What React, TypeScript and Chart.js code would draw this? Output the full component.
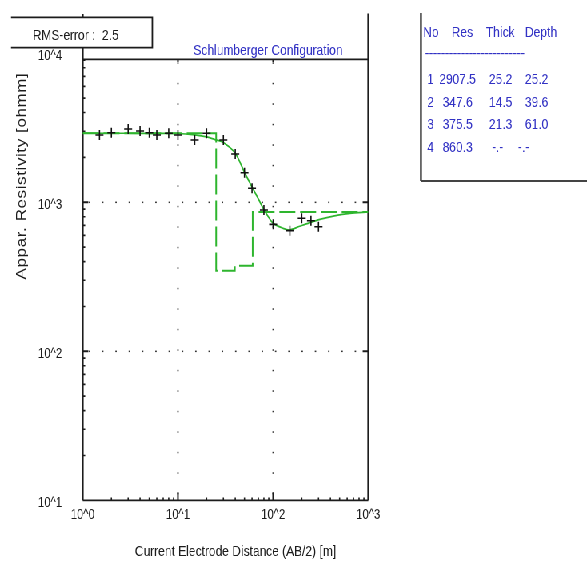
import React, { useEffect, useRef } from "react";
import { Chart, registerables } from "chart.js";

Chart.register(...registerables);

// ---- data ----
const abHalf = [1.5, 2, 3, 4, 5, 6, 8, 10, 15, 20, 30, 40, 50, 60, 80, 100, 150, 200, 250, 300];
const measuredRho = [2829, 2931, 3105, 3009, 2931, 2829, 2906, 2829, 2618, 2904, 2618, 2109, 1580, 1242, 888, 711, 645, 781, 752, 685];

const modelAB = [1, 3, 6, 10, 15, 20, 25, 30, 40, 50, 60, 70, 80, 90, 100, 127, 149, 190, 240, 310, 430, 640, 1000];
const modelRho = [2907, 2905, 2903, 2895, 2830, 2745, 2625, 2520, 2134, 1590, 1265, 1052, 893, 790, 723, 669, 652, 690, 728, 768, 808, 843, 861];

const layerRes = [2907.5, 347.6, 375.5, 860.3];
const layerThick = [25.2, 14.5, 21.3];
const layerDepth = [25.2, 39.6, 61.0];

const xTickValues = [1, 10, 100, 1000];
const xTickLabels = ["10^0", "10^1", "10^2", "10^3"];
const yTickValues = [10, 100, 1000, 10000];
const yTickLabels = ["10^1", "10^2", "10^3", "10^4"];

const rmsError = "2.5";

// ---- layout ----
const W = 734;
const H = 561;
const S = 587 / W; // horizontal squeeze
const X = (rx: number) => rx / S;
const FONT = '"Liberation Sans", Arial, sans-serif';
const GREEN = "#2eb52e";
const BLUE = "#3232c4";
const INK = "#1c1c1c";
const yAxisMax = 9110;

const decorPlugin = {
  id: "decor",
  beforeDatasetsDraw(chart: any) {
    const { ctx, chartArea: a, scales } = chart;
    const xs = scales.x;
    const ys = scales.y;
    ctx.save();
    // dotted grid
    ctx.fillStyle = "#333";
    for (const v of [100, 1000]) {
      const py = ys.getPixelForValue(v);
      for (let px = a.left + X(6); px < a.right - X(6); px += X(13.3)) ctx.fillRect(px, py - 0.7, 1.8, 1.5);
    }
    for (const v of [10, 100]) {
      const px = xs.getPixelForValue(v);
      for (let py = a.top + 3; py < a.bottom - 6; py += 20.5) ctx.fillRect(px - 0.9, py, 1.8, 1.5);
    }
    // ticks
    ctx.strokeStyle = INK;
    ctx.lineWidth = 1.6;
    ctx.beginPath();
    for (const d of [10, 100, 1000]) {
      for (let m = 2; m <= 9; m++) {
        const v = d * m;
        if (v > yAxisMax) continue;
        const py = ys.getPixelForValue(v);
        ctx.moveTo(a.left, py);
        ctx.lineTo(a.left + X(2.5), py);
      }
    }
    for (const d of [1, 10, 100]) {
      for (let m = 2; m <= 9; m++) {
        const px = xs.getPixelForValue(d * m);
        ctx.moveTo(px, a.bottom);
        ctx.lineTo(px, a.bottom - 2.8);
      }
    }
    ctx.stroke();
    ctx.beginPath();
    for (const v of [100, 1000]) {
      const py = ys.getPixelForValue(v);
      ctx.moveTo(a.left, py);
      ctx.lineTo(a.left + X(5.6), py);
      ctx.moveTo(a.right, py);
      ctx.lineTo(a.right - X(5.6), py);
    }
    for (const v of [10, 100]) {
      const px = xs.getPixelForValue(v);
      ctx.moveTo(px, a.bottom);
      ctx.lineTo(px, a.bottom - 8);
      ctx.moveTo(px, a.top);
      ctx.lineTo(px, a.top + 2.8);
    }
    ctx.lineWidth = 2;
    ctx.stroke();
    // frame
    ctx.strokeStyle = INK;
    ctx.lineWidth = 2.3;
    ctx.beginPath();
    ctx.moveTo(a.left, 14);
    ctx.lineTo(a.left, a.bottom);
    ctx.moveTo(a.right, 13.5);
    ctx.lineTo(a.right, a.bottom);
    ctx.stroke();
    ctx.lineWidth = 1.8;
    ctx.beginPath();
    ctx.moveTo(a.left, a.top);
    ctx.lineTo(a.right, a.top);
    ctx.moveTo(a.left, a.bottom);
    ctx.lineTo(a.right, a.bottom);
    ctx.stroke();
    ctx.restore();
  },
  afterDraw(chart: any) {
    const { ctx, scales } = chart;
    const xs = scales.x;
    const ys = scales.y;
    ctx.save();
    // RMS box
    ctx.fillStyle = "#fff";
    ctx.fillRect(X(11), 17.3, X(152.3) - X(11), 30.4);
    ctx.strokeStyle = INK;
    ctx.lineWidth = 1.8;
    ctx.beginPath();
    ctx.moveTo(X(11), 17.3);
    ctx.lineTo(X(152.3), 17.3);
    ctx.lineTo(X(152.3), 47.7);
    ctx.lineTo(X(11), 47.7);
    ctx.stroke();
    ctx.fillStyle = INK;
    ctx.font = `15px ${FONT}`;
    ctx.textAlign = "left";
    ctx.textBaseline = "alphabetic";
    ctx.fillText(`RMS-error :  ${rmsError}`, X(32.7), 39.5);
    // subtitle
    ctx.fillStyle = BLUE;
    ctx.textAlign = "center";
    ctx.fillText("Schlumberger Configuration", X(268), 54.5);
    // tick labels
    ctx.fillStyle = INK;
    ctx.font = `14px ${FONT}`;
    ctx.textBaseline = "middle";
    yTickValues.forEach((v, i) => {
      ctx.fillText(yTickLabels[i], X(50), ys.getPixelForValue(v) + 2.5);
    });
    xTickValues.forEach((v, i) => {
      ctx.fillText(xTickLabels[i], xs.getPixelForValue(v), 515.5);
    });
    // axis titles
    ctx.font = `15px ${FONT}`;
    ctx.fillText("Current Electrode Distance (AB/2) [m]", X(235.5), 552);
    ctx.save();
    ctx.translate(X(21.5), 176);
    ctx.rotate(-Math.PI / 2);
    ctx.font = `17px ${FONT}`;
    try { (ctx as any).letterSpacing = "0.6px"; } catch (e) {}
    ctx.fillText("Appar. Resistivity [ohmm]", 0, 0);
    ctx.restore();
    // table
    ctx.strokeStyle = "#444";
    ctx.lineWidth = 2.5;
    ctx.beginPath();
    ctx.moveTo(X(421), 13);
    ctx.lineTo(X(421), 181);
    ctx.stroke();
    ctx.lineWidth = 2;
    ctx.beginPath();
    ctx.moveTo(X(421), 181);
    ctx.lineTo(W, 181);
    ctx.stroke();
    ctx.fillStyle = BLUE;
    ctx.font = `15px ${FONT}`;
    ctx.textAlign = "left";
    ctx.textBaseline = "alphabetic";
    ctx.fillText("No", X(423.3), 36.7);
    ctx.fillText("Res", X(451.7), 36.7);
    ctx.fillText("Thick", X(486), 36.7);
    ctx.fillText("Depth", X(525), 36.7);
    ctx.fillText("-------------------------", X(425), 57.5);
    layerRes.forEach((r, i) => {
      const by = 84 + i * 22.6;
      ctx.fillText(String(i + 1), X(427.3), by);
      const rs = r.toFixed(1);
      ctx.fillText(rs.length < 6 ? " " + rs : rs, X(439.3), by);
      if (i < layerThick.length) {
        ctx.fillText(layerThick[i].toFixed(1), X(489), by);
        ctx.fillText(layerDepth[i].toFixed(1), X(525), by);
      } else {
        ctx.fillText("-.-", X(492), by);
        ctx.fillText("-.-", X(518), by);
      }
    });
    ctx.restore();
  },
};

export default function App() {
  const ref = useRef<HTMLCanvasElement>(null);
  useEffect(() => {
    document.body.style.overflow = "hidden";
    const layerPts: { x: number; y: number }[] = [{ x: 1, y: layerRes[0] }];
    layerDepth.forEach((d, i) => layerPts.push({ x: d, y: layerRes[i + 1] }));
    layerPts.push({ x: 1000, y: layerRes[layerRes.length - 1] });
    const chart = new Chart(ref.current as HTMLCanvasElement, {
      type: "line",
      data: {
        datasets: [
          {
            label: "Field data",
            data: abHalf.map((x, i) => ({ x, y: measuredRho[i] })),
            showLine: false,
            pointStyle: "cross",
            pointRadius: 5,
            pointBorderWidth: 1.6,
            borderColor: "#111",
            backgroundColor: "#111",
          },
          {
            label: "Model curve",
            data: modelAB.map((x, i) => ({ x, y: modelRho[i] })),
            borderColor: GREEN,
            borderWidth: 1.7,
            pointRadius: 0,
            tension: 0.3,
            fill: false,
          },
          {
            label: "Layers",
            data: layerPts,
            stepped: "before",
            borderColor: GREEN,
            borderWidth: 2,
            borderDash: [20, 6],
            pointRadius: 0,
            fill: false,
          },
        ],
      } as any,
      options: {
        animation: false,
        responsive: false,
        events: [],
        layout: { padding: { left: X(82.7), right: W - X(368.3), top: 59.3, bottom: H - 500.3 } },
        plugins: { legend: { display: false }, tooltip: { enabled: false }, title: { display: false } },
        scales: {
          x: { type: "logarithmic", min: 1, max: 1000, display: false },
          y: { type: "logarithmic", min: 10, max: yAxisMax, display: false },
        },
      } as any,
      plugins: [decorPlugin],
    });
    return () => chart.destroy();
  }, []);
  return (
    <div style={{ position: "absolute", left: 0, top: 0, width: W, height: H, transform: `scaleX(${S})`, transformOrigin: "0 0", background: "#fff" }}>
      <canvas ref={ref} width={W} height={H} style={{ display: "block", width: W, height: H }} />
    </div>
  );
}
